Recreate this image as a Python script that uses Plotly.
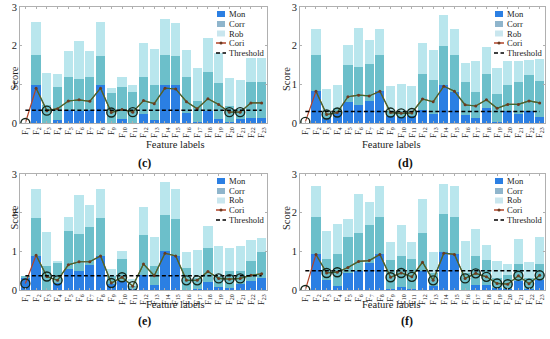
import numpy as np
import plotly.graph_objects as go

W, H = 550, 339

features = [f"F<sub>{i}</sub>" for i in range(1, 24)]

# ---- panel (c) ----
mon_c = [0, .97, 0, .08, .33, .32, .33, .97, 0, .10, 0, .23, .08, .99, .97, .25, .02, .30, .10, .03, .10, .13, .12]
corr_c = [0, .78, .47, .85, .85, .81, .85, .77, .78, .82, .80, .95, .89, .77, .76, .93, .55, 1.02, .93, .40, .25, .93, .94]
rob_c = [0, .85, .83, .34, .67, .99, .68, .86, .12, .26, .17, .88, .95, .94, .85, .70, .85, .88, .79, .74, .75, .61, .61]
cori_c = [0, .90, .32, .37, .57, .60, .56, .90, .27, .35, .28, .58, .50, .90, .88, .55, .37, .63, .48, .28, .28, .52, .52]
thr_c = 0.33
circled_c = [1, 3, 9, 11, 20, 21]

# ---- panel (d) ----
mon_d = [0, .83, .12, .25, .55, .47, .57, .83, .17, .15, .17, .33, .22, .98, .80, .20, .12, .38, .02, .30, .22, .30, .15]
corr_d = [0, .92, .15, .15, .95, .98, .96, .92, .13, .15, .13, .95, .90, 1.00, .95, .87, .68, .89, .72, .67, .83, .93, .93]
rob_d = [0, .68, .61, .57, .53, 1.00, .61, .68, .65, .72, .65, .78, .78, .82, .67, .49, .80, .70, .68, .63, .55, .41, .57]
cori_d = [.03, .82, .22, .27, .68, .72, .70, .82, .27, .25, .26, .62, .55, .95, .82, .47, .44, .60, .38, .48, .48, .57, .52]
thr_d = 0.30
circled_d = [1, 3, 4, 9, 10, 11]

# ---- panel (e) ----
mon_e = [.33, .88, 0, .17, .55, .48, .65, .88, .15, .22, .02, .40, .12, 1.00, .88, 0, .02, .20, .08, .06, .15, .22, .30]
corr_e = [.02, .97, .63, .53, .98, .97, .97, .97, .20, .58, .08, 1.02, .51, .95, .95, .57, .28, .88, .27, .44, .35, .53, .67]
rob_e = [0, .77, .87, .05, .37, 1.00, .58, .77, .20, .20, .18, .73, .74, .85, .77, .41, .73, .57, .80, .58, .65, .55, .38]
cori_e = [.17, .90, .35, .25, .65, .73, .73, .88, .18, .33, .10, .67, .37, .95, .88, .25, .25, .48, .30, .28, .30, .38, .42]
thr_e = 0.37
circled_e = [1, 3, 4, 9, 10, 11, 16, 17, 19, 20, 21]

# ---- panel (f) ----
mon_f = [0, .92, .27, .10, .43, .50, .70, .92, .02, .07, .02, .50, .10, .98, .92, 0, .12, .13, .04, .02, .24, .02, .25]
corr_f = [0, .98, .53, .83, .95, .97, .97, .98, .76, .80, .78, .98, .35, .99, .98, .45, .75, .65, .26, .38, .44, .28, .42]
rob_f = [0, .80, .72, .77, .45, 1.00, .60, .80, .45, .81, .43, .87, .53, .78, .80, .83, .71, .39, .45, .27, .64, .42, .71]
cori_f = [0, .92, .44, .46, .58, .74, .76, .92, .33, .44, .34, .72, .25, .95, .92, .30, .43, .34, .17, .15, .37, .16, .38]
thr_f = 0.50
circled_f = [1, 3, 4, 9, 10, 11, 13, 16, 17, 18, 19, 20, 21, 22, 23]

panel_labels = ["(c)", "(d)", "(e)", "(f)"]
legend_names = ["Mon", "Corr", "Rob", "Cori", "Threshold"]

C_MON = "#2b7fe3"
C_CORR = "#6cbfca"
C_ROB = "#b9e6ed"
C_MON_LEG = "#2b7fe3"
C_CORR_LEG = "#8fb5cc"
C_ROB_LEG = "#c9e6ee"
C_CORI_RED = "#b0452a"
C_CORI_GREEN = "#3e6a30"
FONT = "Liberation Serif"
DASH = "4px,2.5px"

def px_x(x):
    return x / W

def px_y(y):
    return 1 - y / H

# plot-area boxes in pixels: (left, right, top, bottom)
boxes = [(20, 267, 7, 123), (300, 545, 7, 123), (20, 267, 174, 290), (300, 545, 174, 290)]
panels = [
    (mon_c, corr_c, rob_c, cori_c, thr_c, circled_c),
    (mon_d, corr_d, rob_d, cori_d, thr_d, circled_d),
    (mon_e, corr_e, rob_e, cori_e, thr_e, circled_e),
    (mon_f, corr_f, rob_f, cori_f, thr_f, circled_f),
]

fig = go.Figure()
layout_axes = {}
annotations = []
shapes = []

for k, (mon, corr, rob, cori, thr, circ) in enumerate(panels):
    xa = "x" if k == 0 else f"x{k+1}"
    ya = "y" if k == 0 else f"y{k+1}"
    for vals, col, nm in [(mon, C_MON, "Mon"), (corr, C_CORR, "Corr"), (rob, C_ROB, "Rob")]:
        fig.add_trace(go.Bar(x=features, y=vals, marker=dict(color=col, line=dict(width=0)),
                             width=0.86, name=nm, showlegend=False, xaxis=xa, yaxis=ya))
    # Cori line (reddish start, dark green body)
    fig.add_trace(go.Scatter(x=features, y=cori, mode="lines", line=dict(color=C_CORI_RED, width=1.2),
                             showlegend=False, xaxis=xa, yaxis=ya))
    fig.add_trace(go.Scatter(x=features[1:], y=cori[1:], mode="lines+markers",
                             line=dict(color=C_CORI_GREEN, width=1.2),
                             marker=dict(size=3, color="#6b3a20"),
                             showlegend=False, xaxis=xa, yaxis=ya))
    # threshold
    fig.add_trace(go.Scatter(x=[features[0], features[-1]], y=[thr, thr], mode="lines",
                             line=dict(color="black", width=1.5, dash=DASH),
                             showlegend=False, xaxis=xa, yaxis=ya))
    # circled points
    fig.add_trace(go.Scatter(x=[features[i - 1] for i in circ], y=[cori[i - 1] for i in circ],
                             mode="markers",
                             marker=dict(symbol="circle-open", size=9, color="#14261a",
                                         line=dict(width=1.4, color="#14261a")),
                             showlegend=False, xaxis=xa, yaxis=ya))

    l, r, t, b = boxes[k]
    xkey = "xaxis" if k == 0 else f"xaxis{k+1}"
    ykey = "yaxis" if k == 0 else f"yaxis{k+1}"
    layout_axes[xkey] = dict(domain=[px_x(l), px_x(r)], anchor=ya, range=[-0.5, 22.5],
                             automargin=False,
                             tickangle=-90, tickfont=dict(size=8.5, family=FONT, color="#222"),
                             showline=True, linecolor="#b0b0b0", linewidth=1, mirror="ticks",
                             ticks="inside", ticklen=2, tickcolor="#b0b0b0",
                             showgrid=False, zeroline=False)
    layout_axes[ykey] = dict(domain=[px_y(b), px_y(t)], anchor=xa, range=[0, 3], dtick=1,
                             automargin=False,
                             tickfont=dict(size=10.5, family=FONT, color="#222"),
                             showline=True, linecolor="#b0b0b0", linewidth=1, mirror="ticks",
                             ticks="inside", ticklen=2, tickcolor="#b0b0b0",
                             showgrid=False, zeroline=False)
    cx = (l + r) / 2
    annotations.append(dict(text="Feature labels", x=px_x(cx), y=px_y(b + 22), xref="paper", yref="paper",
                            showarrow=False, font=dict(size=10.5, family=FONT, color="#222")))
    annotations.append(dict(text="<b>" + panel_labels[k] + "</b>", x=px_x(cx - 8), y=px_y(b + 40),
                            xref="paper", yref="paper", showarrow=False,
                            font=dict(size=12, family=FONT, color="#111")))
    annotations.append(dict(text="Score", x=px_x(l - 14), y=px_y((t + b) / 2), xref="paper", yref="paper",
                            textangle=-90, showarrow=False, font=dict(size=10.5, family=FONT, color="#222")))

    # manual compact legend
    sx = r - 50
    rows = [t + 7, t + 17, t + 26.5, t + 36, t + 46]
    for j, name in enumerate(legend_names):
        yc = rows[j]
        if j < 3:
            col = [C_MON_LEG, C_CORR_LEG, C_ROB_LEG][j]
            shapes.append(dict(type="rect", xref="paper", yref="paper",
                               x0=px_x(sx), x1=px_x(sx + 8), y0=px_y(yc + 3), y1=px_y(yc - 3),
                               fillcolor=col, line=dict(width=0)))
        elif j == 3:
            shapes.append(dict(type="line", xref="paper", yref="paper",
                               x0=px_x(sx - 1), x1=px_x(sx + 9), y0=px_y(yc), y1=px_y(yc),
                               line=dict(color=C_CORI_RED, width=1.5)))
            shapes.append(dict(type="circle", xref="paper", yref="paper",
                               x0=px_x(sx + 2.5), x1=px_x(sx + 5.5), y0=px_y(yc + 1.5), y1=px_y(yc - 1.5),
                               fillcolor="#6b3a20", line=dict(width=0)))
        else:
            shapes.append(dict(type="line", xref="paper", yref="paper",
                               x0=px_x(sx - 1), x1=px_x(sx + 9), y0=px_y(yc), y1=px_y(yc),
                               line=dict(color="black", width=1.6, dash=DASH)))
        annotations.append(dict(text=name, x=px_x(sx + 10), y=px_y(yc), xref="paper", yref="paper",
                                xanchor="left", yanchor="middle", showarrow=False,
                                font=dict(size=8.6, family=FONT, color="#222")))

fig.update_layout(
    width=W, height=H, margin=dict(l=0, r=0, t=0, b=0),
    paper_bgcolor="white", plot_bgcolor="white",
    barmode="stack", bargap=0.14, showlegend=False,
    annotations=annotations, shapes=shapes,
    font=dict(family=FONT),
    **layout_axes,
)

fig.write_html("out.html", config={"displayModeBar": False},
               post_script="document.body.style.margin='0';document.body.style.overflow='hidden';")
